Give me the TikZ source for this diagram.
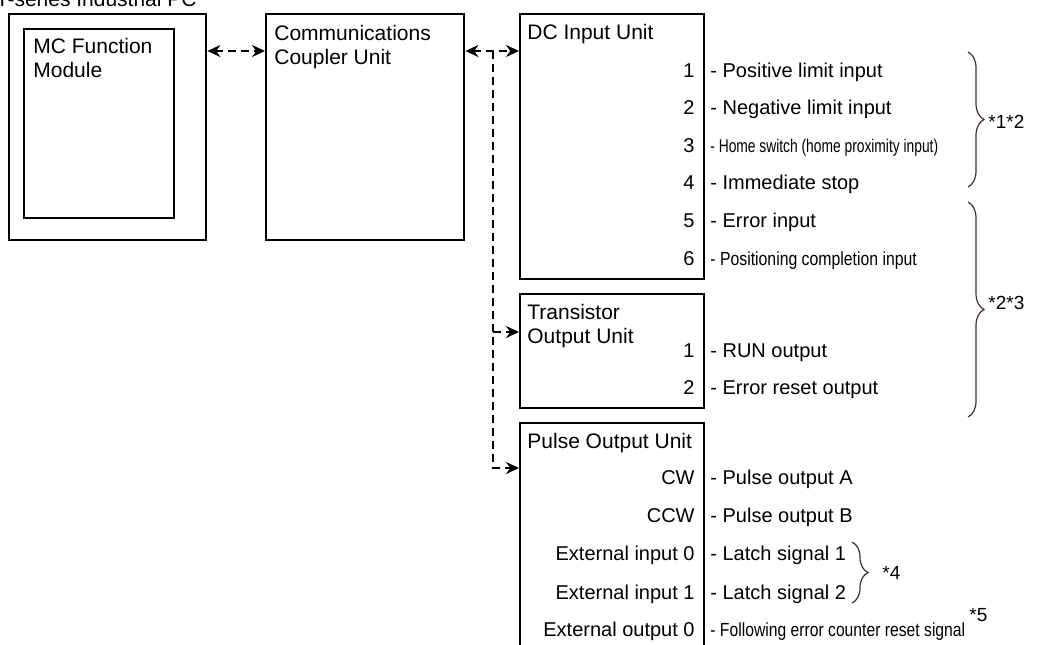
\documentclass[tikz,border=0pt]{standalone}
\usepackage{graphicx}
\usepackage{fontspec}
\setmainfont{Liberation Sans}
\usetikzlibrary{arrows.meta, decorations.pathreplacing, calc}

\definecolor{bracecol}{HTML}{3B2E2B}

\tikzset{
  unit/.style={draw, line width=1.2pt, anchor=north west, inner sep=0pt},
  unitname/.style={anchor=north west, inner sep=0pt, align=left, font=\fontsize{10.5}{12}\selectfont},
  pinnum/.style={anchor=base east, inner sep=0pt, font=\fontsize{10}{12}\selectfont},
  signal/.style={anchor=base west, inner sep=0pt, font=\fontsize{10}{12}\selectfont},
  link/.style={line width=1pt, dash pattern=on 4pt off 2.5pt},
  grp/.style={draw=bracecol, line width=0.6pt, decorate, decoration={brace, amplitude=8pt}},
  note/.style={anchor=west, inner sep=0pt, font=\fontsize{9.5}{10}\selectfont},
}

\begin{document}
\begin{tikzpicture}[x=0.5pt, y=-0.5pt, >={Stealth[length=6.5pt, width=6pt]}]
  \useasboundingbox (0,0) rectangle (1043,644);
  \clip (0,0) rectangle (1043,644);

  % Industrial PC with the MC Function Module
  \node[anchor=base east, inner sep=0pt, font=\fontsize{10.5}{12}\selectfont] (pctitle) at (197,6) {NY-series Industrial PC};
  \node[unit, minimum width=98.5pt, minimum height=113pt] (pc) at (8,13) {};
  \node[unit, line width=0.9pt, minimum width=75pt, minimum height=94.5pt] (mc) at (23,28) {};
  \node[unitname] (mcname) at (33,38) {MC Function\\Module};

  % Communications Coupler Unit
  \node[unit, minimum width=99pt, minimum height=113pt] (cpl) at (265,13) {};
  \node[unitname] (cplname) at (274,25) {Communications\\Coupler Unit};

  % I/O units
  \node[unit, minimum width=92pt, minimum height=132.5pt] (dc) at (519,13) {};
  \node[unitname] (dcname) at (527,24) {DC Input Unit};
  \node[unit, minimum width=92pt, minimum height=57pt] (tr) at (519,293) {};
  \node[unitname] (trname) at (527,304) {Transistor\\Output Unit};
  \node[unit, minimum width=92pt, minimum height=125pt] (pulse) at (519,422) {};
  \node[unitname] (pulsename) at (527,433) {Pulse Output Unit};

  % Connections
  \coordinate (bus) at (0,51);
  \coordinate (trunk) at (493,51);
  \coordinate (trY) at (0,332);
  \coordinate (puY) at (0,468);
  \draw[link, <->] (pc.east |- bus) -- (cpl.west |- bus);
  \draw[link, <->] (cpl.east |- bus) -- (dc.west |- bus);
  \draw[link, ->] (trunk) |- (pulse.west |- puY);
  \draw[link, ->] (trunk |- trY) -- (tr.west |- trY);

  % DC input signals
  \foreach \t [count=\i] in {{- Positive limit input}, {- Negative limit input},
      {\scalebox{0.69}[0.92]{- Home switch (home proximity input)}}, {- Immediate stop},
      {- Error input}, {\scalebox{0.79}[0.95]{- Positioning completion input}}} {
    \node[pinnum] (dcpin\i) at (695,{77+37.6*(\i-1)}) {\i};
    \node[signal] (dcsig\i) at (710,{77+37.6*(\i-1)}) {\t};
  }

  % Transistor output signals
  \foreach \t [count=\i] in {{- RUN output}, {- Error reset output}} {
    \node[pinnum] (trpin\i) at (695,{357+37*(\i-1)}) {\i};
    \node[signal] (trsig\i) at (710,{357+37*(\i-1)}) {\t};
  }

  % Pulse output signals
  \foreach \p/\y/\t [count=\i] in {CW/484/{- Pulse output A}, CCW/522/{- Pulse output B},
      {External input 0}/560/{- Latch signal 1}, {External input 1}/599/{- Latch signal 2},
      {External output 0}/636/{\scalebox{0.785}[0.95]{- Following error counter reset signal}}} {
    \node[pinnum] (pupin\i) at (695,\y) {\p};
    \node[signal] (pusig\i) at (710,\y) {\t};
  }

  % Notes
  \draw[grp] (968,52) -- (968,187);
  \node[note] (n12) at (988,122) {*1*2};
  \draw[grp] (968,202) -- (968,417);
  \node[note] (n23) at (988,303) {*2*3};
  \draw[grp] (852,542) -- (852,603);
  \node[note] (n4) at (882,573) {*4};
  \node[note] (n5) at (969,615) {*5};
\end{tikzpicture}
\end{document}
